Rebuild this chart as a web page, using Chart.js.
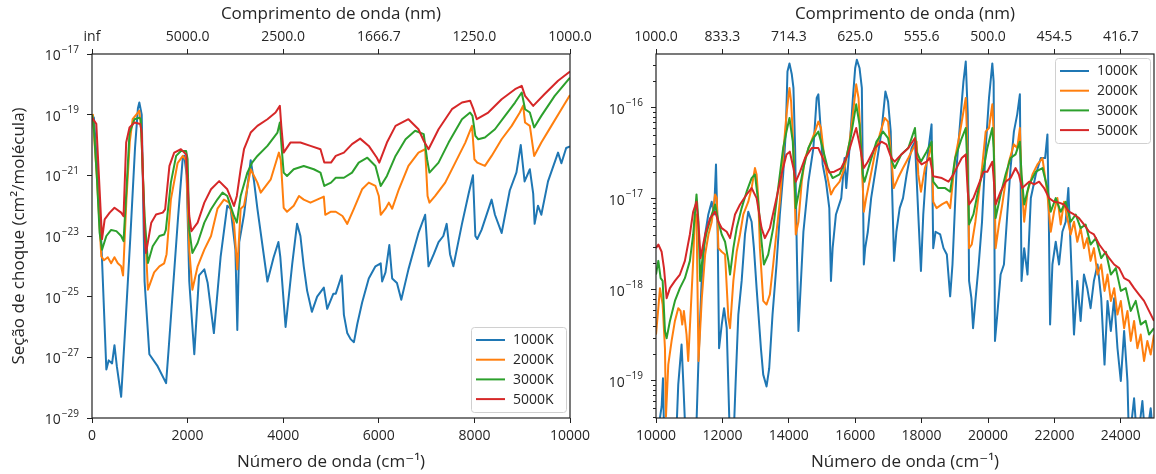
<!DOCTYPE html>
<html>
<head>
<meta charset="utf-8">
<script src="https://cdn.jsdelivr.net/npm/chart.js@4.4.1/dist/chart.umd.min.js"></script>
<style>
body { margin: 0; background: #fff; }
#wrap { position: relative; width: 1156px; height: 474px; }
canvas { position: absolute; top: 0; }
</style>
</head>
<body>
<div id="wrap">
<canvas id="left" width="600" height="474" style="left:0px"></canvas>
<canvas id="right" width="560" height="474" style="left:596px"></canvas>
</div>
<script>
// series
const temps = ["1000K", "2000K", "3000K", "5000K"];
const colors = ["#1f77b4", "#ff7f0e", "#2ca02c", "#d62728"];

// ticks (wavenumber, cm-1) and decades
const leftTicks = [0, 2000, 4000, 6000, 8000, 10000];
const rightTicks = [10000, 12000, 14000, 16000, 18000, 20000, 22000, 24000];
const leftYExp = [-29, -27, -25, -23, -21, -19, -17];
const rightYExp = [-19, -18, -17, -16];

// data: [wavenumber cm-1, log10 cross-section]
const left1000 = [[0,-19.0],[40,-19.1],[100,-20.5],[195,-23.2],[300,-27.4],[350,-27.1],[420,-27.2],[470,-26.6],[520,-27.3],[610,-28.3],[700,-25.9],[800,-23.1],[900,-20.1],[960,-18.8],[990,-18.6],[1040,-19.0],[1100,-24.5],[1200,-26.9],[1375,-27.3],[1550,-27.85],[1600,-26.8],[1700,-24.6],[1800,-22.4],[1900,-20.4],[1930,-20.35],[1980,-21.0],[2035,-24.5],[2140,-26.9],[2240,-24.3],[2350,-24.1],[2420,-24.55],[2550,-26.2],[2690,-23.7],[2830,-22.0],[2900,-22.1],[3000,-23.45],[3040,-26.1],[3080,-23.2],[3180,-22.3],[3320,-20.5],[3390,-21.2],[3460,-22.1],[3670,-24.5],[3800,-23.7],[3900,-23.2],[3940,-23.7],[4050,-26.0],[4190,-23.9],[4290,-22.6],[4360,-23.0],[4430,-24.0],[4500,-24.8],[4600,-25.5],[4710,-25.0],[4850,-24.7],[4920,-25.4],[5050,-24.9],[5100,-24.9],[5225,-24.3],[5270,-25.6],[5340,-26.2],[5410,-26.4],[5480,-26.5],[5550,-25.9],[5650,-25.2],[5790,-24.4],[5930,-24.0],[6040,-23.9],[6070,-24.5],[6140,-24.2],[6220,-23.3],[6280,-24.4],[6380,-24.55],[6470,-25.1],[6620,-24.1],[6830,-22.9],[6970,-22.3],[7040,-24.0],[7150,-23.6],[7250,-23.2],[7350,-23.0],[7420,-22.6],[7490,-23.6],[7560,-24.0],[7740,-22.6],[7880,-21.6],[7970,-21.0],[8020,-23.0],[8060,-23.1],[8150,-22.8],[8360,-21.8],[8430,-22.3],[8570,-22.9],[8740,-21.5],[8880,-20.9],[8970,-20.0],[9050,-21.2],[9160,-20.8],[9230,-21.6],[9260,-22.6],[9330,-22.0],[9400,-22.3],[9540,-21.2],[9750,-20.25],[9820,-20.6],[9920,-20.1],[10000,-20.05]];
const left2000 = [[0,-19.0],[20,-19.15],[100,-21.0],[195,-23.67],[250,-23.8],[330,-23.7],[400,-23.9],[470,-23.7],[540,-23.9],[610,-24.0],[650,-24.3],[720,-21.8],[790,-19.9],[850,-19.15],[960,-18.93],[990,-18.87],[1030,-19.5],[1100,-22.5],[1170,-24.77],[1300,-24.2],[1410,-24.0],[1510,-23.9],[1560,-23.6],[1650,-21.8],[1790,-20.6],[1900,-20.36],[1970,-20.5],[2035,-23.45],[2100,-24.77],[2210,-24.0],[2350,-23.45],[2490,-23.0],[2625,-22.1],[2760,-21.8],[2870,-21.9],[2970,-22.56],[3040,-24.1],[3110,-22.1],[3180,-22.0],[3320,-20.8],[3460,-21.24],[3530,-21.57],[3740,-21.13],[3910,-20.25],[3950,-20.5],[4010,-22.07],[4080,-22.2],[4220,-22.0],[4330,-21.68],[4430,-21.8],[4570,-21.9],[4710,-21.8],[4850,-21.7],[4880,-22.3],[5000,-22.2],[5100,-22.2],[5240,-22.34],[5340,-22.6],[5480,-22.1],[5650,-21.46],[5790,-21.24],[5930,-21.35],[6000,-21.68],[6040,-22.3],[6140,-22.1],[6210,-21.9],[6280,-22.1],[6420,-21.46],[6620,-20.69],[6830,-20.25],[6970,-20.14],[7020,-21.68],[7060,-21.9],[7180,-21.68],[7390,-21.24],[7600,-20.58],[7810,-19.92],[7950,-19.37],[8000,-20.47],[8060,-20.58],[8220,-20.69],[8360,-20.36],[8570,-19.81],[8780,-19.37],[8950,-18.93],[9020,-18.7],[9060,-19.26],[9160,-19.37],[9250,-20.36],[9400,-19.92],[9610,-19.37],[9820,-18.82],[10000,-18.35]];
const left3000 = [[0,-19.0],[30,-19.2],[100,-21.0],[160,-22.9],[210,-23.45],[300,-23.0],[400,-22.8],[510,-22.84],[610,-23.0],[660,-23.17],[720,-21.5],[785,-19.6],[890,-19.15],[990,-19.1],[1020,-19.15],[1100,-22.35],[1170,-23.89],[1270,-23.34],[1410,-23.0],[1510,-22.95],[1545,-22.8],[1650,-21.24],[1760,-20.36],[1860,-20.2],[1970,-20.2],[2000,-20.47],[2035,-22.79],[2100,-23.56],[2210,-23.23],[2350,-22.56],[2490,-22.12],[2625,-21.79],[2730,-21.57],[2830,-21.68],[2970,-22.34],[3030,-22.56],[3110,-21.68],[3250,-20.91],[3350,-20.58],[3460,-20.36],[3670,-20.03],[3880,-19.59],[3930,-19.26],[3970,-20.14],[4010,-20.91],[4080,-21.02],[4220,-20.8],[4430,-20.69],[4640,-20.8],[4780,-20.91],[4860,-21.35],[5000,-21.24],[5100,-21.08],[5270,-21.08],[5440,-20.91],[5580,-20.58],[5760,-20.42],[5930,-20.69],[6040,-21.35],[6170,-21.02],[6350,-20.36],[6560,-19.81],[6760,-19.53],[6940,-19.64],[7010,-20.47],[7060,-20.91],[7250,-20.58],[7460,-19.92],[7740,-19.15],[7910,-18.93],[7960,-19.04],[8020,-19.7],[8080,-19.81],[8220,-19.75],[8430,-19.48],[8640,-19.04],[8850,-18.6],[8990,-18.27],[9060,-18.82],[9160,-18.93],[9250,-19.42],[9400,-19.04],[9680,-18.38],[10000,-17.78]];
const left5000 = [[0,-19.1],[90,-19.3],[160,-21.5],[210,-23.1],[265,-22.45],[370,-22.23],[470,-22.07],[610,-22.23],[660,-22.35],[715,-19.92],[785,-19.42],[890,-19.26],[1010,-19.31],[1040,-19.6],[1100,-23.0],[1130,-23.56],[1240,-22.56],[1340,-22.29],[1480,-22.23],[1530,-22.12],[1620,-20.69],[1720,-20.25],[1860,-20.14],[1970,-20.31],[2035,-22.34],[2080,-22.84],[2210,-22.56],[2350,-21.9],[2490,-21.46],[2660,-21.19],[2830,-21.46],[2970,-22.01],[3030,-21.68],[3110,-20.8],[3180,-20.14],[3320,-19.59],[3460,-19.37],[3670,-19.15],[3840,-18.93],[3930,-18.71],[3960,-19.37],[4010,-20.25],[4150,-19.92],[4360,-19.92],[4570,-20.03],[4780,-20.14],[4860,-20.58],[5000,-20.58],[5100,-20.36],[5270,-20.25],[5440,-19.97],[5610,-19.79],[5790,-20.03],[5960,-20.42],[6010,-20.58],[6170,-19.92],[6350,-19.37],[6620,-19.15],[6830,-19.48],[6940,-19.86],[7040,-20.14],[7250,-19.48],[7530,-18.82],[7740,-18.6],[7910,-18.54],[7980,-18.82],[8050,-19.15],[8290,-18.93],[8570,-18.49],[8850,-18.16],[8990,-18.05],[9060,-18.38],[9230,-18.71],[9470,-18.32],[9750,-17.88],[10000,-17.58]];

const right1000 = [[10000,-19.7],[10170,-19.28],[10210,-18.97],[10250,-19.7],[10420,-19.7],[10600,-19.7],[10670,-19.04],[10770,-18.6],[10820,-19.0],[10900,-19.7],[11200,-19.7],[11275,-18.82],[11375,-17.9],[11480,-17.39],[11576,-17.17],[11677,-17.03],[11747,-17.17],[11807,-16.62],[11857,-17.36],[11900,-18.64],[11980,-18.38],[12050,-18.2],[12130,-18.42],[12230,-19.7],[12330,-19.7],[12400,-19.0],[12480,-18.27],[12580,-17.9],[12680,-17.39],[12780,-17.14],[12880,-17.25],[12950,-17.54],[13030,-17.98],[13160,-18.64],[13230,-18.93],[13330,-19.06],[13410,-18.86],[13510,-18.27],[13630,-17.72],[13730,-17.17],[13830,-16.73],[13910,-16.26],[13960,-15.6],[14020,-15.51],[14090,-15.63],[14140,-15.78],[14190,-16.44],[14240,-17.54],[14290,-18.45],[14340,-18.09],[14440,-17.36],[14590,-16.81],[14740,-16.44],[14840,-15.89],[14890,-15.85],[14970,-16.29],[15020,-16.62],[15120,-16.81],[15220,-17.1],[15270,-17.9],[15320,-17.54],[15420,-17.17],[15580,-16.99],[15680,-16.55],[15730,-16.88],[15830,-16.44],[15930,-15.89],[16000,-15.56],[16050,-15.47],[16130,-15.56],[16200,-15.78],[16260,-17.72],[16300,-17.54],[16380,-17.36],[16480,-16.99],[16640,-16.62],[16790,-16.26],[16910,-15.82],[16990,-15.93],[17070,-16.26],[17110,-16.88],[17170,-17.68],[17240,-17.36],[17340,-17.1],[17440,-16.99],[17550,-16.73],[17700,-16.44],[17800,-16.37],[17900,-17.17],[17980,-17.79],[18050,-17.17],[18150,-16.62],[18300,-16.18],[18350,-17.54],[18420,-17.36],[18560,-17.39],[18660,-17.54],[18760,-17.61],[18860,-18.07],[18930,-17.72],[19060,-16.62],[19180,-16.07],[19260,-15.71],[19330,-15.49],[19390,-16.07],[19430,-17.9],[19500,-18.09],[19550,-18.42],[19620,-18.12],[19720,-17.72],[19820,-17.25],[19930,-16.44],[20030,-15.89],[20130,-15.51],[20170,-15.71],[20210,-18.56],[20280,-18.27],[20380,-17.83],[20480,-17.72],[20580,-17.17],[20680,-16.66],[20780,-16.26],[20880,-16.07],[20960,-15.85],[21010,-17.9],[21090,-17.54],[21190,-17.83],[21290,-16.99],[21440,-16.73],[21590,-16.55],[21720,-16.55],[21790,-16.29],[21830,-17.17],[21870,-18.38],[21940,-17.72],[22040,-17.47],[22140,-17.72],[22240,-17.36],[22340,-17.25],[22420,-16.88],[22490,-17.54],[22590,-18.49],[22690,-17.9],[22790,-18.34],[22890,-17.83],[22990,-17.98],[23090,-18.2],[23190,-17.9],[23300,-17.72],[23410,-18.09],[23510,-18.82],[23600,-18.12],[23700,-18.45],[23800,-18.09],[23900,-18.64],[24000,-19.0],[24100,-18.45],[24200,-19.0],[24250,-19.7],[24400,-19.19],[24500,-19.7],[24650,-19.22],[24750,-19.7],[24900,-19.3],[25000,-19.7]];
const right2000 = [[10000,-18.49],[10070,-18.2],[10120,-17.98],[10200,-18.16],[10270,-18.64],[10300,-19.39],[10370,-18.82],[10470,-18.56],[10570,-18.34],[10670,-18.2],[10740,-18.23],[10790,-18.38],[10840,-18.23],[10920,-18.49],[10970,-18.78],[11040,-18.27],[11120,-17.68],[11170,-17.17],[11220,-17.17],[11280,-18.78],[11380,-18.09],[11480,-17.61],[11580,-17.39],[11680,-17.25],[11780,-16.95],[11830,-16.99],[11880,-17.54],[11980,-17.58],[12080,-17.61],[12180,-18.31],[12230,-18.42],[12330,-17.9],[12430,-17.58],[12530,-17.39],[12630,-17.17],[12780,-17.03],[12880,-16.88],[12980,-16.66],[13030,-16.73],[13080,-16.99],[13130,-17.54],[13230,-18.12],[13330,-18.16],[13430,-18.05],[13530,-17.72],[13630,-17.36],[13730,-17.03],[13830,-16.51],[13930,-16.07],[14020,-15.78],[14070,-15.93],[14140,-16.44],[14210,-17.39],[14290,-17.25],[14390,-16.81],[14490,-16.55],[14640,-16.4],[14790,-16.26],[14890,-16.15],[14970,-16.22],[15070,-16.55],[15170,-16.77],[15270,-16.95],[15370,-16.88],[15530,-16.81],[15680,-16.66],[15830,-16.37],[15930,-16.07],[16030,-15.74],[16100,-15.89],[16180,-16.44],[16260,-17.14],[16330,-16.99],[16430,-16.81],[16590,-16.51],[16740,-16.29],[16890,-16.11],[16990,-16.15],[17090,-16.55],[17160,-16.88],[17290,-16.77],[17440,-16.66],[17600,-16.55],[17750,-16.44],[17850,-16.37],[17900,-16.73],[17980,-16.92],[18100,-16.66],[18200,-16.55],[18300,-16.4],[18350,-17.03],[18450,-17.1],[18610,-17.06],[18760,-17.03],[18860,-17.1],[19010,-16.55],[19160,-16.26],[19260,-16.04],[19330,-15.89],[19380,-16.44],[19430,-17.54],[19510,-17.5],[19620,-17.25],[19720,-16.95],[19820,-16.66],[19930,-16.26],[20030,-16.22],[20130,-15.96],[20170,-16.26],[20230,-17.54],[20330,-17.28],[20430,-17.06],[20530,-16.81],[20630,-16.59],[20780,-16.4],[20880,-16.44],[20960,-16.22],[21010,-16.81],[21090,-17.25],[21190,-16.92],[21340,-16.73],[21490,-16.62],[21640,-16.55],[21790,-16.95],[21890,-17.36],[21990,-17.14],[22090,-16.99],[22190,-17.28],[22290,-17.03],[22390,-17.21],[22490,-17.39],[22590,-17.25],[22690,-17.47],[22790,-17.32],[22890,-17.54],[22990,-17.43],[23090,-17.68],[23190,-17.54],[23300,-17.83],[23410,-17.72],[23510,-18.01],[23600,-17.83],[23700,-18.12],[23800,-17.98],[23900,-18.27],[24000,-18.12],[24100,-18.42],[24200,-18.23],[24300,-18.56],[24400,-18.34],[24500,-18.64],[24600,-18.49],[24700,-18.78],[24800,-18.56],[24900,-18.71],[25000,-18.49]];
const right3000 = [[10000,-17.83],[10070,-17.68],[10140,-17.87],[10200,-17.9],[10270,-18.45],[10320,-18.53],[10420,-18.34],[10570,-18.12],[10720,-17.98],[10870,-17.87],[11020,-17.68],[11120,-17.39],[11220,-16.95],[11280,-17.25],[11330,-17.9],[11430,-17.54],[11530,-17.36],[11680,-17.17],[11780,-17.06],[11880,-17.25],[11980,-17.39],[12080,-17.47],[12180,-17.68],[12230,-17.83],[12330,-17.54],[12430,-17.32],[12580,-17.1],[12730,-16.92],[12880,-16.77],[12980,-16.73],[13080,-17.03],[13180,-17.47],[13250,-17.72],[13380,-17.61],[13530,-17.32],[13680,-16.88],[13830,-16.44],[13930,-16.26],[14020,-16.11],[14120,-16.37],[14210,-17.1],[14290,-16.95],[14440,-16.66],[14590,-16.44],[14740,-16.33],[14890,-16.26],[15020,-16.44],[15170,-16.66],[15320,-16.77],[15530,-16.73],[15730,-16.55],[15880,-16.29],[16030,-15.96],[16130,-16.18],[16230,-16.73],[16280,-16.81],[16430,-16.62],[16640,-16.37],[16840,-16.26],[16990,-16.33],[17110,-16.59],[17190,-16.66],[17390,-16.51],[17600,-16.44],[17800,-16.22],[17850,-16.48],[17980,-16.59],[18150,-16.48],[18300,-16.37],[18350,-16.81],[18500,-16.88],[18710,-16.88],[18860,-16.92],[19010,-16.55],[19210,-16.33],[19330,-16.22],[19390,-16.73],[19430,-17.28],[19560,-17.17],[19720,-16.88],[19870,-16.66],[19980,-16.44],[20130,-16.22],[20170,-16.44],[20230,-17.21],[20380,-16.95],[20530,-16.73],[20680,-16.55],[20830,-16.51],[20960,-16.37],[21010,-16.73],[21090,-17.06],[21240,-16.84],[21440,-16.7],[21640,-16.66],[21790,-16.88],[21890,-17.14],[22040,-16.99],[22190,-17.14],[22340,-17.03],[22490,-17.25],[22640,-17.17],[22790,-17.32],[22940,-17.28],[23090,-17.5],[23250,-17.43],[23410,-17.65],[23550,-17.58],[23700,-17.83],[23850,-17.76],[24000,-18.01],[24150,-17.98],[24300,-18.23],[24450,-18.12],[24600,-18.38],[24750,-18.34],[24850,-18.49],[25000,-18.42]];
const right5000 = [[10000,-17.54],[10070,-17.5],[10170,-17.58],[10240,-17.76],[10320,-18.09],[10420,-17.98],[10570,-17.9],[10720,-17.83],[10870,-17.68],[11020,-17.39],[11120,-17.14],[11220,-17.03],[11300,-17.39],[11340,-17.65],[11480,-17.39],[11630,-17.21],[11780,-17.14],[11880,-17.25],[11980,-17.32],[12130,-17.36],[12230,-17.43],[12380,-17.17],[12530,-17.06],[12730,-16.95],[12880,-16.88],[13030,-16.99],[13180,-17.32],[13280,-17.43],[13430,-17.32],[13630,-16.99],[13780,-16.73],[13930,-16.51],[14030,-16.48],[14140,-16.66],[14210,-16.81],[14340,-16.7],[14490,-16.55],[14690,-16.44],[14890,-16.44],[15070,-16.59],[15220,-16.71],[15370,-16.7],[15580,-16.66],[15780,-16.51],[15930,-16.33],[16030,-16.22],[16130,-16.4],[16260,-16.66],[16380,-16.59],[16590,-16.44],[16790,-16.37],[16940,-16.4],[17090,-16.55],[17190,-16.59],[17390,-16.51],[17600,-16.44],[17800,-16.33],[17850,-16.55],[18000,-16.62],[18150,-16.59],[18250,-16.55],[18350,-16.75],[18610,-16.77],[18810,-16.81],[18960,-16.73],[19110,-16.62],[19210,-16.55],[19330,-16.51],[19390,-16.92],[19430,-17.06],[19560,-16.99],[19720,-16.84],[19870,-16.7],[19980,-16.7],[20130,-16.59],[20170,-16.77],[20230,-17.06],[20380,-16.92],[20530,-16.81],[20680,-16.77],[20830,-16.66],[20930,-16.73],[21030,-16.88],[21240,-16.81],[21390,-16.84],[21540,-16.81],[21690,-16.88],[21840,-16.99],[21990,-17.03],[22140,-17.04],[22290,-17.06],[22440,-17.14],[22590,-17.17],[22740,-17.21],[22890,-17.28],[23050,-17.36],[23190,-17.39],[23350,-17.5],[23510,-17.58],[23650,-17.65],[23800,-17.72],[23950,-17.76],[24100,-17.87],[24250,-17.9],[24400,-17.98],[24550,-18.05],[24700,-18.12],[24850,-18.23],[25000,-18.34]];

Chart.defaults.font.family = "'Open Sans', 'DejaVu Sans', sans-serif";
Chart.defaults.color = "#262626";

function nmLabel(v) {
  return v === 0 ? "inf" : (1e7 / v).toFixed(1);
}

function series(pairs, i) {
  return {
    label: temps[i],
    data: pairs.map(p => ({x: p[0], y: Math.pow(10, p[1])})),
    borderColor: colors[i],
    backgroundColor: colors[i],
    borderWidth: 2,
    pointRadius: 0,
    tension: 0,
    fill: false,
    borderJoinStyle: "round",
    order: 3 - i
  };
}

// box around plot, 10^n labels, legend and minor log ticks
const framePlugin = {
  id: "frame",
  afterDraw(chart, args, opts) {
    const ctx = chart.ctx, a = chart.chartArea, ys = chart.scales.y;
    ctx.save();
    if (opts.minor) {
      ctx.strokeStyle = "#222";
      ctx.lineWidth = 1;
      for (let e = -20; e <= -16; e++) {
        for (let m = 2; m <= 9; m++) {
          const v = m * Math.pow(10, e);
          if (v <= ys.min || v >= ys.max) continue;
          const y = Math.round(ys.getPixelForValue(v)) + 0.5;
          ctx.beginPath();
          ctx.moveTo(a.left - 3, y);
          ctx.lineTo(a.left, y);
          ctx.stroke();
        }
      }
    }
    ctx.strokeStyle = "#222";
    ctx.lineWidth = 1.2;
    ctx.strokeRect(a.left, a.top, a.right - a.left, a.bottom - a.top);

    // y tick labels as 10 with raised exponent
    ctx.fillStyle = "#262626";
    ctx.textBaseline = "alphabetic";
    ctx.textAlign = "left";
    ys.ticks.forEach(t => {
      const e = Math.round(Math.log10(t.value));
      const y = ys.getPixelForValue(t.value);
      const sup = "\u2212" + String(Math.abs(e));
      ctx.font = "10px 'Open Sans'";
      const ws = ctx.measureText(sup).width;
      ctx.font = "14px 'Open Sans'";
      const wb = ctx.measureText("10").width;
      const xr = a.left - 13;
      ctx.fillText("10", xr - ws - wb - 1, y + 6);
      ctx.font = "10px 'Open Sans'";
      ctx.fillText(sup, xr - ws, y - 1.5);
    });

    const lg = opts.legend;
    ctx.beginPath();
    ctx.roundRect(lg.x + 0.5, lg.y + 0.5, 95, 85, 3);
    ctx.fillStyle = "rgba(255,255,255,0.85)";
    ctx.fill();
    ctx.strokeStyle = "#d0d0d0";
    ctx.lineWidth = 1;
    ctx.stroke();
    ctx.font = "14px 'Open Sans'";
    ctx.textBaseline = "middle";
    chart.data.datasets.forEach((ds, i) => {
      const y = lg.y + 13 + i * 19.7;
      ctx.strokeStyle = ds.borderColor;
      ctx.lineWidth = 2;
      ctx.beginPath();
      ctx.moveTo(lg.x + 5, y);
      ctx.lineTo(lg.x + 34, y);
      ctx.stroke();
      ctx.fillStyle = "#262626";
      ctx.fillText(ds.label, lg.x + 42, y + 0.5);
    });
    ctx.restore();
  }
};

function xAxis(pos, min, max, ticks, fmt, title, h) {
  const top = pos === "top";
  return {
    type: "linear",
    position: pos,
    min: min,
    max: max,
    afterBuildTicks: s => { s.ticks = ticks.map(v => ({value: v})); },
    afterFit: s => { s.height = h; s.paddingLeft = 0; s.paddingRight = 0; },
    ticks: {autoSkip: false, maxRotation: 0, padding: top ? 4 : 5, font: {size: 14}, callback: fmt},
    grid: {drawOnChartArea: false, tickLength: 5, color: "#222"},
    border: {display: false},
    title: {display: true, text: title, font: {size: 17}, padding: top ? {top: 4, bottom: 0} : {top: 0, bottom: 2}}
  };
}

function yAxis(min, max, exps, w, title) {
  return {
    type: "logarithmic",
    position: "left",
    min: min,
    max: max,
    afterBuildTicks: s => { s.ticks = exps.map(e => ({value: Math.pow(10, e)})); },
    afterFit: s => { s.width = w; s.paddingTop = 0; s.paddingBottom = 0; },
    ticks: {autoSkip: false, padding: 8, font: {size: 14}, callback: () => ""},
    grid: {drawOnChartArea: false, tickLength: 5, color: "#222"},
    border: {display: false},
    title: {display: !!title, text: title || "", font: {size: 17}, padding: {top: 9, bottom: 0}}
  };
}

new Chart(document.getElementById("left"), {
  type: "line",
  data: {datasets: [left1000, left2000, left3000, left5000].map(series)},
  options: {
    responsive: false,
    animation: false,
    events: [],
    layout: {padding: {left: 0, right: 30, top: 0, bottom: 0}},
    plugins: {legend: {display: false}, tooltip: {enabled: false}, frame: {legend: {x: 471, y: 327}}},
    scales: {
      x: xAxis("bottom", 0, 10000, leftTicks, v => String(v), "N\u00famero de onda (cm\u207b\u00b9)", 56),
      x2: xAxis("top", 0, 10000, leftTicks, nmLabel, "Comprimento de onda (nm)", 54),
      y: yAxis(1e-29, 1e-17, leftYExp, 92, "Se\u00e7\u00e3o de choque (cm\u00b2/mol\u00e9cula)")
    }
  },
  plugins: [framePlugin]
});

new Chart(document.getElementById("right"), {
  type: "line",
  data: {datasets: [right1000, right2000, right3000, right5000].map(series)},
  options: {
    responsive: false,
    animation: false,
    events: [],
    layout: {padding: {left: 0, right: 2, top: 0, bottom: 0}},
    plugins: {legend: {display: false}, tooltip: {enabled: false}, frame: {legend: {x: 459, y: 58}, minor: true}},
    scales: {
      x: xAxis("bottom", 10000, 25000, rightTicks, v => String(v), "N\u00famero de onda (cm\u207b\u00b9)", 56),
      x2: xAxis("top", 10000, 25000, rightTicks, nmLabel, "Comprimento de onda (nm)", 54),
      y: yAxis(3.92e-20, 3.92e-16, rightYExp, 60, "")
    }
  },
  plugins: [framePlugin]
});
</script>
</body>
</html>
